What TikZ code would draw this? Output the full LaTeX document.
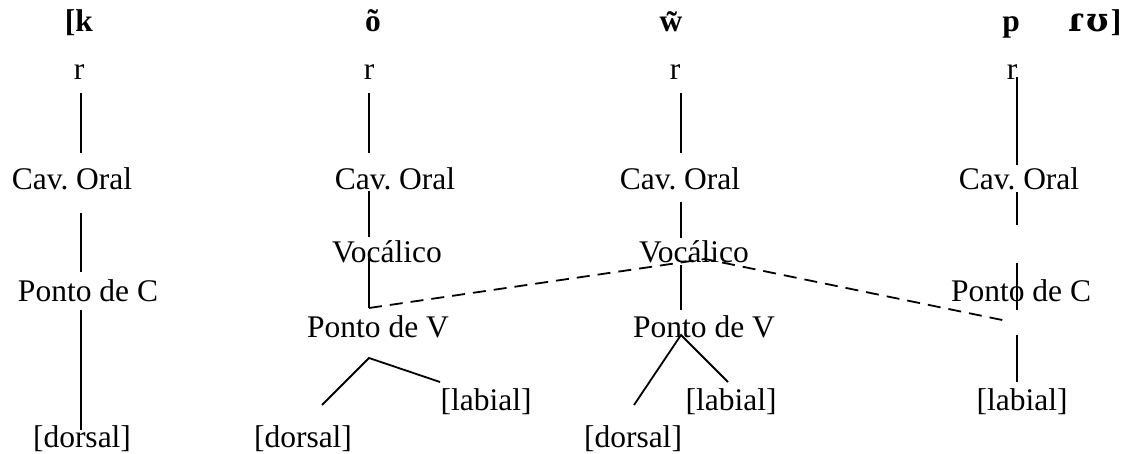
\documentclass[tikz,border=0pt]{standalone}
\usepackage{fontspec}
\setmainfont{Liberation Serif}
\newfontfamily\ipafont{DejaVu Serif}
\begin{document}
\begin{tikzpicture}[x=0.5pt, y=-0.5pt,
    every node/.style={anchor=base, inner sep=0pt, font=\fontsize{15.75pt}{18pt}\selectfont},
    phone/.style={font=\fontsize{15.75pt}{18pt}\selectfont\bfseries},
    seg/.style={line width=0.9pt},
    spread/.style={seg, dash pattern=on 6.5pt off 4pt}]
            \useasboundingbox (0,0) rectangle (1141,454);

            % Define the segments of the word
            \node[phone] (k1) at (79,32) {[k};
            \node[phone] (o2) at (373,32) {õ};
            \node[phone] (w3) at (671,32) {w̃};
            \node[phone] (p4) at (1011,32) {p};
            \node[phone] (ru4) at (1095,32) {{\ipafont\fontsize{16.5pt}{18pt}\selectfont ɾ\kern1.5ptʊ}\kern1pt]};

            % Define the first tree
            \node (r1) at (79,80) {r};
            \node (cav1) at (72,190) {Cav.\ Oral};
            \node (pc1) at (88,302) {Ponto de C};
            \node (dor1) at (82,447) {[dorsal]};

            % Define the second tree
            \node (r2) at (369,80) {r};
            \node (cav2) at (395,190) {Cav.\ Oral};
            \node (voc2) at (387,263) {Vocálico};
            \node (pv2) at (378,337) {Ponto de V};
            \node (lab2) at (486,410) {[labial]};
            \node (dor2) at (303,447) {[dorsal]};

            % Define the third tree
            \node (r3) at (675,80) {r};
            \node (cav3) at (680,190) {Cav.\ Oral};
            \node (voc3) at (694,263) {Vocálico};
            \node (pv3) at (704,337) {Ponto de V};
            \node (lab3) at (731,410) {[labial]};
            \node (dor3) at (633,447) {[dorsal]};

            % Define the fourth tree
            \node (r4) at (1012,80) {r};
            \node (cav4) at (1019,190) {Cav.\ Oral};
            \node (pc4) at (1021,302) {Ponto de C};
            \node (lab4) at (1022,410) {[labial]};

            % Define the spines and free ends
            \coordinate (s1) at (81,0);
            \coordinate (s2) at (369,0);
            \coordinate (s3) at (681,0);
            \coordinate (s4) at (1017,0);
            \coordinate (j2) at (369,308);
            \coordinate (top) at (705,259);
            \coordinate (j4) at (1007,321);
            \coordinate (b2) at (369,358);
            \coordinate (d2) at (322,405);
            \coordinate (l2) at (440,382);
            \coordinate (b3) at (681,335);
            \coordinate (d3) at (634,405);
            \coordinate (l3) at (728,382);
            \coordinate (c4t) at (1017,263);
            \coordinate (c4b) at (1017,310);

            % Draw the first tree
            \draw[seg, shorten <=6.5pt, shorten >=18.5pt] (s1 |- r1.base) -- (s1 |- cav1.base);
            \draw[seg, shorten <=11.5pt, shorten >=15pt] (s1 |- cav1.base) -- (s1 |- pc1.base);
            \draw[seg, shorten <=4pt, shorten >=8.5pt] (s1 |- pc1.base) -- (s1 |- dor1.base);

            % Draw the second tree
            \draw[seg, shorten <=6.5pt, shorten >=18.5pt] (s2 |- r2.base) -- (s2 |- cav2.base);
            \draw[seg, shorten <=0.5pt, shorten >=13pt] (s2 |- cav2.base) -- (s2 |- voc2.base);
            \draw[seg, shorten <=-2.5pt] (s2 |- voc2.base) -- (j2);
            \draw[seg] (d2) -- (b2) -- (l2);

            % Draw the third tree
            \draw[seg, shorten <=6.5pt, shorten >=18.5pt] (s3 |- r3.base) -- (s3 |- cav3.base);
            \draw[seg, shorten <=6pt, shorten >=12.5pt] (s3 |- cav3.base) -- (s3 |- voc3.base);
            \draw[seg, shorten <=1pt, shorten >=13.5pt] (s3 |- voc3.base) -- (s3 |- pv3.base);
            \draw[seg] (d3) -- (b3) -- (l3);

            % Draw the fourth tree
            \draw[seg, shorten <=-1.5pt, shorten >=12.5pt] (s4 |- r4.base) -- (s4 |- cav4.base);
            \draw[seg, shorten <=1pt, shorten >=38.5pt] (s4 |- cav4.base) -- (s4 |- pc4.base);
            \draw[seg] (c4t) -- (c4b);
            \draw[seg, shorten <=16.5pt, shorten >=14pt] (s4 |- pc4.base) -- (s4 |- lab4.base);

            % Add the spreading of the vowel features
            \draw[spread] (j2) -- (top) -- (j4);

        \end{tikzpicture}
\end{document}
